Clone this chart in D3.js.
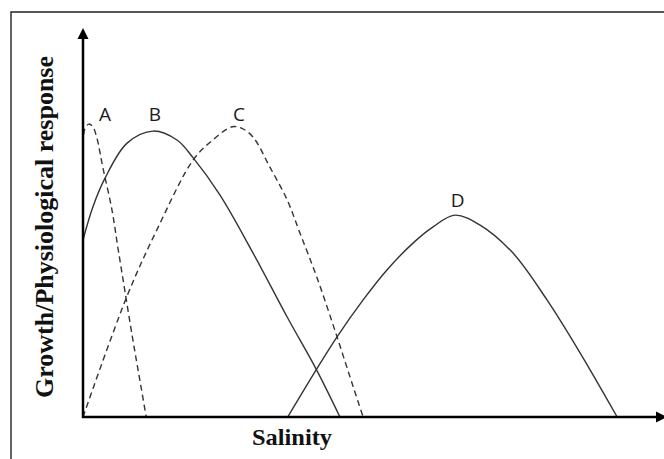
<!DOCTYPE html>
<html lang="en-US">
<head>
    <meta charset="utf-8">
    <script src="https://d3js.org/d3.v7.min.js"></script>
    <style>
        body { margin: 0; background: #fff; }
        .curve { fill: none; stroke: #333; stroke-width: 1.4; }
        .dashed { stroke-dasharray: 6, 4; }
        .axis-line { stroke: #000; stroke-width: 2.5; }
        .tag { font-family: "Open Sans", sans-serif; font-size: 19px; fill: #1a1a1a; text-anchor: middle; }
        .title { font-family: "Liberation Serif", "Times New Roman", serif; font-weight: bold; fill: #111; text-anchor: middle; }
    </style>
</head>
<body>
<div id="canvas"></div>
<script>
    // response curves, salinity 0-100 vs response 0-100
    var aX = [0, 0.3, 1.0, 1.7, 2.4, 3.4, 5.0, 6.0, 7.2, 8.6, 9.8, 10.9];
    var aY = [70, 74, 75.3, 74.6, 71.7, 64.3, 53.2, 43.7, 32.6, 19.8, 9.5, 0];

    var bX = [0, 1.7, 3.8, 7.6, 12.1, 16.2, 19.0, 23.6, 29.3, 35.2, 40.2, 44.3];
    var bY = [45.5, 54.0, 61.4, 70.4, 73.5, 71.2, 66.6, 57.1, 42.2, 25.7, 12.3, 0];

    var cX = [0, 7.6, 12.8, 19.0, 22.2, 25.7, 27.4, 29.3, 32.2, 35.2, 37.4, 40.3, 43.8, 46.6, 48.3];
    var cY = [0, 31.1, 48.3, 66.1, 71.0, 74.6, 74.2, 72.0, 64.3, 55.8, 47.3, 36.0, 20.6, 7.7, 0];

    var dX = [35.3, 40.2, 43.8, 48.3, 52.4, 56.9, 60.3, 64.1, 68.4, 74.1, 80.0, 85.7, 92.1];
    var dY = [0, 12.1, 20.6, 30.1, 37.8, 44.7, 48.8, 51.9, 49.4, 42.2, 30.1, 16.5, 0];

    var curveNames = ["A", "B", "C", "D"];
    var curveDashed = [true, false, true, false];
    // where each letter sits (salinity, response)
    var tagX = [3.8, 12.4, 26.9, 64.6];
    var tagY = [76.1, 76.1, 76.1, 54.0];

    var svg = d3.select("#canvas")
        .append("svg")
        .attr("width", 664)
        .attr("height", 459);

    var x = d3.scaleLinear().domain([0, 100]).range([83, 663]);
    var y = d3.scaleLinear().domain([0, 100]).range([417, 28]);

    // frame of the original figure
    svg.append("path")
        .attr("d", "M11,459V12H664")
        .attr("fill", "none")
        .attr("stroke", "#222")
        .attr("stroke-width", 1.4);

    function zip(xs, ys) {
        return xs.map(function (v, i) { return { x: v, y: ys[i] }; });
    }
    var series = [zip(aX, aY), zip(bX, bY), zip(cX, cY), zip(dX, dY)];

    var line = d3.line()
        .x(function (d) { return x(d.x); })
        .y(function (d) { return y(d.y); })
        .curve(d3.curveCatmullRom.alpha(0.5));

    svg.selectAll(".curve")
        .data(series)
        .enter()
        .append("path")
        .attr("class", function (d, i) { return curveDashed[i] ? "curve dashed" : "curve"; })
        .attr("d", line);

    // axes: plain lines with arrow heads
    var x0 = x(0), y0 = y(0), xEnd = x.range()[1], yEnd = y.range()[1];
    svg.append("line").attr("class", "axis-line")
        .attr("x1", x0).attr("y1", y0 + 1).attr("x2", x0).attr("y2", yEnd + 8);
    svg.append("line").attr("class", "axis-line")
        .attr("x1", x0 - 1).attr("y1", y0).attr("x2", xEnd - 6).attr("y2", y0);
    svg.append("path")
        .attr("d", "M" + x0 + "," + yEnd + "L" + (x0 - 5.5) + "," + (yEnd + 11) + "L" + (x0 + 5.5) + "," + (yEnd + 11) + "Z")
        .attr("fill", "#000");
    svg.append("path")
        .attr("d", "M" + (xEnd + 4) + "," + y0 + "L" + (xEnd - 7) + "," + (y0 - 5.5) + "L" + (xEnd - 7) + "," + (y0 + 5.5) + "Z")
        .attr("fill", "#000");

    svg.selectAll(".tag")
        .data(curveNames)
        .enter()
        .append("text")
        .attr("class", "tag")
        .attr("x", function (d, i) { return x(tagX[i]); })
        .attr("y", function (d, i) { return y(tagY[i]); })
        .text(function (d) { return d; });

    svg.append("text")
        .attr("class", "title")
        .attr("x", 292)
        .attr("y", 445)
        .attr("font-size", 24)
        .attr("textLength", 80)
        .attr("lengthAdjust", "spacingAndGlyphs")
        .text("Salinity");

    svg.append("text")
        .attr("class", "title")
        .attr("transform", "translate(53,227) rotate(-90)")
        .attr("font-size", 25)
        .attr("textLength", 342)
        .attr("lengthAdjust", "spacingAndGlyphs")
        .text("Growth/Physiological response");
</script>
</body>
</html>
